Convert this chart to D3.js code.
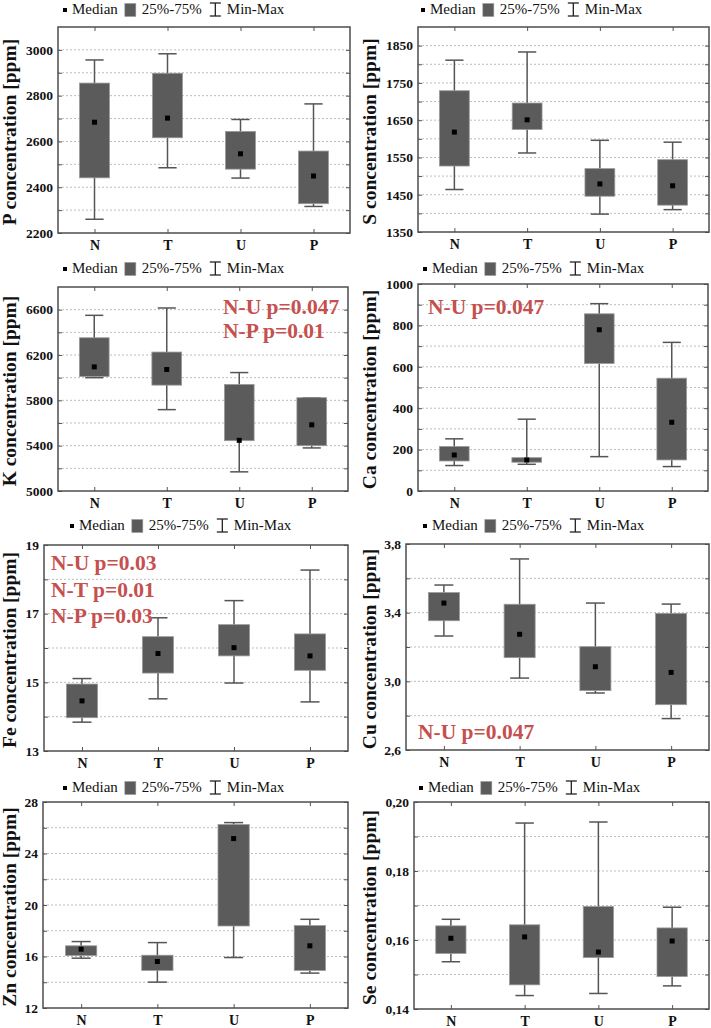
<!DOCTYPE html>
<html><head><meta charset="utf-8">
<script src="https://cdn.jsdelivr.net/npm/d3@7"></script>
<style>body{margin:0;background:#fff} svg{display:block}</style>
</head><body>
<svg id="c" width="711" height="1028"></svg>
<script>
const categories = ["N","T","U","P"];
// each row per category: [min, q1, median, q3, max]
const pStats  = [[2260,2441,2684,2855,2956],[2485,2616,2702,2898,2983],[2440,2479,2546,2644,2696],[2316,2328,2449,2558,2764]];
const sStats  = [[1464,1527,1618,1729,1811],[1562,1625,1651,1696,1833],[1398,1446,1479,1520,1596],[1410,1422,1474,1544,1591]];
const kStats  = [[6000,6010,6095,6352,6550],[5718,5934,6072,6226,6615],[5169,5444,5447,5940,6045],[5380,5400,5584,5823,5823]];
const caStats = [[123,145,174,215,252],[129,139,150,161,347],[166,616,779,856,905],[118,150,332,545,718]];
const feStats = [[13.84,13.97,14.46,14.95,15.11],[14.52,15.27,15.84,16.33,16.88],[14.98,15.77,16.01,16.68,17.38],[14.43,15.35,15.77,16.41,18.27]];
const cuStats = [[3.264,3.353,3.456,3.517,3.561],[3.019,3.138,3.274,3.449,3.713],[2.932,2.946,3.085,3.202,3.456],[2.783,2.864,3.052,3.396,3.450]];
const znStats = [[15.87,16.08,16.57,16.83,17.16],[14.01,14.92,15.61,16.10,17.08],[15.92,18.37,25.16,26.25,26.40],[14.71,14.92,16.83,18.40,18.89]];
const seStats = [[0.1537,0.1561,0.1605,0.1641,0.1660],[0.1439,0.1470,0.1609,0.1644,0.1939],[0.1445,0.1549,0.1565,0.1697,0.1942],[0.1467,0.1494,0.1597,0.1635,0.1695]];

const pTicks  = [2200,2400,2600,2800,3000];
const pGrid   = [2300,2400,2500,2600,2700,2800,2900,3000];
const sTicks  = [1350,1450,1550,1650,1750,1850];
const sGrid   = [1400,1450,1500,1550,1600,1650,1700,1750,1800,1850];
const kTicks  = [5000,5400,5800,6200,6600];
const kGrid   = [5200,5400,5600,5800,6000,6200,6400,6600];
const caTicks = [0,200,400,600,800,1000];
const caGrid  = [100,200,300,400,500,600,700,800,900];
const feTicks = [13,15,17,19];
const feGrid  = [14,15,16,17,18];
const cuTicks = [2.6,3.0,3.4,3.8];
const cuGrid  = [2.8,3.0,3.2,3.4,3.6];
const znTicks = [12,16,20,24,28];
const znGrid  = [14,16,18,20,22,24,26];
const seTicks = [0.14,0.16,0.18,0.20];
const seGrid  = [0.15,0.16,0.17,0.18,0.19];

const kNotes  = ["N-U p=0.047","N-P p=0.01"];
const caNotes = ["N-U p=0.047"];
const feNotes = ["N-U p=0.03","N-T p=0.01","N-P p=0.03"];
const cuNotes = ["N-U p=0.047"];

const legendLabels = ["Median","25%-75%","Min-Max"];

const commaLocale = d3.formatLocale({decimal:",", thousands:".", grouping:[3], currency:["",""]});
const fInt = d3.format("d");

const panels = [
  {title:"P concentration [ppm]", stats:pStats, dom:[2200,3100], ticks:pTicks, grid:pGrid, fmt:fInt,
   box:{l:58,r:350,t:27,b:233}, leg:[63,14], tx:16, notes:[], nx:0, ny:0, nd:22},
  {title:"S concentration [ppm]", stats:sStats, dom:[1350,1900], ticks:sTicks, grid:sGrid, fmt:fInt,
   box:{l:418,r:709,t:27,b:232}, leg:[421,14], tx:376, notes:[], nx:0, ny:0, nd:22},
  {title:"K concentration [ppm]", stats:kStats, dom:[5000,6800], ticks:kTicks, grid:kGrid, fmt:fInt,
   box:{l:58,r:348,t:287,b:491}, leg:[63,273], tx:16, notes:kNotes, nx:223, ny:314, nd:24},
  {title:"Ca concentration [ppm]", stats:caStats, dom:[0,1000], ticks:caTicks, grid:caGrid, fmt:fInt,
   box:{l:418,r:708,t:284,b:491}, leg:[423,273], tx:376, notes:caNotes, nx:428, ny:314, nd:22},
  {title:"Fe concentration [ppm]", stats:feStats, dom:[13,19], ticks:feTicks, grid:feGrid, fmt:fInt,
   box:{l:44,r:348,t:545,b:751}, leg:[70,530], tx:16, notes:feNotes, nx:51, ny:570, nd:26.5},
  {title:"Cu concentration [ppm]", stats:cuStats, dom:[2.6,3.8], ticks:cuTicks, grid:cuGrid, fmt:commaLocale.format(".1f"),
   box:{l:406,r:709,t:544,b:750}, leg:[423,530], tx:376, notes:cuNotes, nx:418, ny:739, nd:22},
  {title:"Zn concentration [ppm]", stats:znStats, dom:[12,28], ticks:znTicks, grid:znGrid, fmt:fInt,
   box:{l:43,r:348,t:802,b:1008}, leg:[63,792], tx:16, notes:[], nx:0, ny:0, nd:22},
  {title:"Se concentration [ppm]", stats:seStats, dom:[0.14,0.20], ticks:seTicks, grid:seGrid, fmt:commaLocale.format(".2f"),
   box:{l:414,r:709,t:802,b:1009}, leg:[419,792], tx:376, notes:[], nx:0, ny:0, nd:22}
];

const svg = d3.select("#c");
const SERIF = "'Liberation Serif','Times New Roman',serif";
const BOXFILL = "#5b5b5b";
const LINE = "#555";

panels.forEach(p => {
  const g = svg.append("g");
  const B = p.box;
  const x = d3.scalePoint().domain(categories).range([B.l, B.r]).padding(0.5);
  const y = d3.scaleLinear().domain(p.dom).range([B.b, B.t]);
  const step = x.step();

  // gridlines
  g.append("g").selectAll("line").data(p.grid).join("line")
    .attr("x1", B.l).attr("x2", B.r)
    .attr("y1", d => y(d)).attr("y2", d => y(d))
    .attr("stroke", "#bdbdbd").attr("stroke-width", 1).attr("stroke-dasharray", "2,2");

  // inner ticks via axes
  const tickAll = Array.from(new Set(p.grid.concat(p.ticks)));
  const addTicks = (axis, tr) => {
    const a = g.append("g").attr("transform", tr).call(axis);
    a.select(".domain").remove();
    a.selectAll("line").attr("stroke", LINE);
    a.selectAll("text").remove();
  };
  addTicks(d3.axisRight(y).tickValues(tickAll).tickSize(4).tickFormat(""), `translate(${B.l},0)`);
  addTicks(d3.axisLeft(y).tickValues(tickAll).tickSize(4).tickFormat(""), `translate(${B.r},0)`);
  addTicks(d3.axisBottom(x).tickSize(4).tickFormat(""), `translate(0,${B.t})`);
  addTicks(d3.axisTop(x).tickSize(4).tickFormat(""), `translate(0,${B.b})`);

  // y labels
  const ya = g.append("g").attr("transform", `translate(${B.l},0)`)
    .call(d3.axisLeft(y).tickValues(p.ticks).tickSize(0).tickPadding(5).tickFormat(p.fmt));
  ya.select(".domain").remove();
  ya.selectAll("text").attr("font-family", SERIF).attr("font-weight", "bold")
    .attr("font-size", 13.5).attr("fill", "#111");

  // x labels
  const xa = g.append("g").attr("transform", `translate(0,${B.b})`)
    .call(d3.axisBottom(x).tickSize(0).tickPadding(7));
  xa.select(".domain").remove();
  xa.selectAll("text").attr("font-family", SERIF).attr("font-weight", "bold")
    .attr("font-size", 14).attr("fill", "#111");

  // boxes
  const bw = step * 0.41, cw = step * 0.25;
  const grp = g.append("g").selectAll("g").data(p.stats.map((s, i) => ({c: categories[i], s}))).join("g");
  grp.append("line").attr("x1", d => x(d.c)).attr("x2", d => x(d.c))
    .attr("y1", d => y(d.s[0])).attr("y2", d => y(d.s[4]))
    .attr("stroke", LINE).attr("stroke-width", 1.5);
  grp.append("line").attr("x1", d => x(d.c) - cw/2).attr("x2", d => x(d.c) + cw/2)
    .attr("y1", d => y(d.s[4])).attr("y2", d => y(d.s[4]))
    .attr("stroke", LINE).attr("stroke-width", 1.5);
  grp.append("line").attr("x1", d => x(d.c) - cw/2).attr("x2", d => x(d.c) + cw/2)
    .attr("y1", d => y(d.s[0])).attr("y2", d => y(d.s[0]))
    .attr("stroke", LINE).attr("stroke-width", 1.5);
  grp.append("rect").attr("x", d => x(d.c) - bw/2).attr("width", bw)
    .attr("y", d => y(d.s[3])).attr("height", d => Math.max(1, y(d.s[1]) - y(d.s[3])))
    .attr("fill", BOXFILL).attr("stroke", "#9a9a9a").attr("stroke-width", 0.8);
  grp.append("rect").attr("x", d => x(d.c) - 2.5).attr("y", d => y(d.s[2]) - 2.5)
    .attr("width", 5).attr("height", 5).attr("fill", "#000");

  // frame
  g.append("rect").attr("x", B.l).attr("y", B.t).attr("width", B.r - B.l).attr("height", B.b - B.t)
    .attr("fill", "none").attr("stroke", "#4d4d4d").attr("stroke-width", 1.5);

  // y title
  g.append("text").attr("transform", `translate(${p.tx},${(B.t + B.b)/2 + 2}) rotate(-90)`)
    .attr("text-anchor", "middle").attr("font-family", SERIF).attr("font-weight", "bold")
    .attr("font-size", 19.5).attr("fill", "#111").text(p.title);

  // legend
  const L = g.append("g").attr("transform", `translate(${p.leg[0]},${p.leg[1]})`);
  let cx = 0;
  L.append("rect").attr("x", cx).attr("y", -6).attr("width", 4).attr("height", 4).attr("fill", "#000");
  cx += 9;
  let t = L.append("text").attr("x", cx).attr("y", 0).attr("font-family", SERIF).attr("font-size", 15).attr("fill", "#111").text(legendLabels[0]);
  cx += t.node().getComputedTextLength() + 7;
  L.append("rect").attr("x", cx).attr("y", -10.5).attr("width", 11).attr("height", 13).attr("fill", BOXFILL).attr("stroke", "#9a9a9a").attr("stroke-width", 0.6);
  cx += 17;
  t = L.append("text").attr("x", cx).attr("y", 0).attr("font-family", SERIF).attr("font-size", 15).attr("fill", "#111").text(legendLabels[1]);
  cx += t.node().getComputedTextLength() + 8;
  const ib = L.append("g").attr("stroke", "#222").attr("stroke-width", 1.3);
  ib.append("line").attr("x1", cx).attr("x2", cx + 11).attr("y1", -11).attr("y2", -11);
  ib.append("line").attr("x1", cx).attr("x2", cx + 11).attr("y1", 2).attr("y2", 2);
  ib.append("line").attr("x1", cx + 5.5).attr("x2", cx + 5.5).attr("y1", -11).attr("y2", 2);
  cx += 17;
  L.append("text").attr("x", cx).attr("y", 0).attr("font-family", SERIF).attr("font-size", 15).attr("fill", "#111").text(legendLabels[2]);

  // annotations
  g.append("g").selectAll("text").data(p.notes).join("text")
    .attr("x", p.nx).attr("y", (d, i) => p.ny + i * p.nd)
    .attr("font-family", SERIF).attr("font-weight", "bold").attr("font-size", 21.5)
    .attr("fill", "#c5504e").text(d => d);
});
</script>
</body></html>
